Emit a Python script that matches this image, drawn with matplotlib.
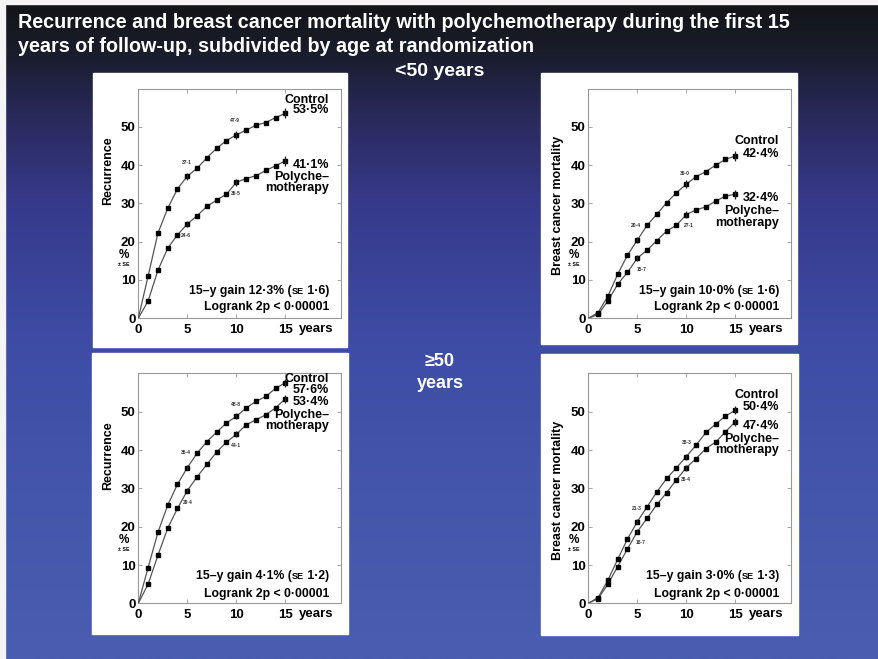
import numpy as np
import matplotlib
matplotlib.use("Agg")
import matplotlib.pyplot as plt
from matplotlib import font_manager
from matplotlib.colors import LinearSegmentedColormap
from matplotlib.patches import Rectangle
from matplotlib.offsetbox import TextArea, HPacker, AnnotationBbox

W, H = 879, 659

years = np.arange(16)
se_years = [5, 10, 15]

# recurrence, age < 50
rec_young_ctrl = [0, 11.0, 22.2, 28.7, 33.8, 37.1, 39.2, 41.9, 44.4, 46.4, 47.9, 49.1, 50.4, 51.1, 52.4, 53.5]
rec_young_poly = [0, 4.5, 12.5, 18.3, 21.8, 24.6, 26.8, 29.2, 30.9, 32.4, 35.5, 36.5, 37.2, 38.6, 39.8, 41.1]
rec_young_ctrl_se = [0.9, 1.1, 1.3]
rec_young_poly_se = [0.8, 1.0, 1.3]

# breast cancer mortality, age < 50
mort_young_ctrl = [0, 1.5, 5.8, 11.5, 16.5, 20.4, 24.3, 27.2, 30.2, 32.8, 35.0, 37.0, 38.3, 40.0, 41.5, 42.4]
mort_young_poly = [0, 1.0, 4.5, 8.9, 12.0, 15.7, 17.8, 20.3, 22.8, 24.3, 27.1, 28.3, 29.1, 30.6, 31.9, 32.4]
mort_young_ctrl_se = [0.8, 1.1, 1.3]
mort_young_poly_se = [0.7, 1.0, 1.2]

# recurrence, age >= 50
rec_old_ctrl = [0, 9.3, 18.5, 25.6, 31.1, 35.4, 39.2, 42.2, 44.7, 47.1, 48.8, 51.0, 52.7, 54.0, 56.1, 57.6]
rec_old_poly = [0, 5.0, 12.5, 19.6, 24.8, 29.4, 33.0, 36.3, 39.5, 42.1, 44.1, 46.6, 47.9, 49.2, 51.0, 53.4]
rec_old_ctrl_se = [0.6, 0.8, 1.0]
rec_old_poly_se = [0.6, 0.8, 1.0]

# breast cancer mortality, age >= 50
mort_old_ctrl = [0, 1.5, 6.0, 11.5, 16.8, 21.3, 25.2, 29.1, 32.6, 35.4, 38.3, 41.3, 44.6, 46.8, 48.9, 50.4]
mort_old_poly = [0, 1.2, 5.0, 9.6, 14.2, 18.7, 22.2, 25.8, 28.9, 32.3, 35.4, 37.8, 40.4, 42.1, 44.8, 47.4]
mort_old_ctrl_se = [0.6, 0.8, 1.0]
mort_old_poly_se = [0.6, 0.8, 1.0]

gain_15y = [12.3, 10.0, 4.1, 3.0]
gain_se = [1.6, 1.6, 1.2, 1.3]

title_lines = ["Recurrence and breast cancer mortality with polychemotherapy during the first 15",
               "years of follow-up, subdivided by age at randomization"]


def has_font(name):
    try:
        font_manager.findfont(font_manager.FontProperties(family=name), fallback_to_default=False)
        return True
    except ValueError:
        return False


SANS = "Liberation Sans" if has_font("Liberation Sans") else "DejaVu Sans"
NARROW = "Liberation Sans Narrow" if has_font("Liberation Sans Narrow") else SANS
TITLE_SIZE = 16.5 if NARROW != SANS else 14.2


def dot(v):
    return f"{v:.1f}".replace(".", "\u00b7")


# px per year / px per percentage point, and axis extents in data units
PX_X, PX_Y = 9.8, 3.83
XMAX, YMAX = 20.7, 60.0

panels = [
    dict(box=(93, 73, 347, 347), origin=(138.3, 318.3), ylabel="Recurrence", ylab_y=38.5,
         ctrl=rec_young_ctrl, poly=rec_young_poly, cse=rec_young_ctrl_se, pse=rec_young_poly_se,
         end_y=[57.1, 54.3, 40.0, 37.0, 33.9], gain_y=[7.0, 2.9],
         vlab=[(5.0, 40.8), (9.9, 51.6), (4.9, 21.7), (10.0, 32.5)]),
    dict(box=(541, 73, 797, 344), origin=(588.3, 318.3), ylabel="Breast cancer mortality", ylab_y=29.5,
         ctrl=mort_young_ctrl, poly=mort_young_poly, cse=mort_young_ctrl_se, pse=mort_young_poly_se,
         end_y=[46.2, 43.0, 31.3, 27.9, 24.8], gain_y=[7.2, 2.9],
         vlab=[(4.9, 24.2), (9.9, 37.9), (5.4, 12.8), (10.3, 24.2)]),
    dict(box=(92, 353, 348, 634), origin=(138.3, 603.3), ylabel="Recurrence", ylab_y=38.5,
         ctrl=rec_old_ctrl, poly=rec_old_poly, cse=rec_old_ctrl_se, pse=rec_old_poly_se,
         end_y=[58.5, 55.7, 52.6, 49.2, 46.3], gain_y=[7.0, 2.5],
         vlab=[(4.9, 39.3), (10.0, 52.0), (5.0, 26.4), (10.0, 41.2)]),
    dict(box=(541, 354, 798, 635), origin=(588.3, 603.3), ylabel="Breast cancer mortality", ylab_y=29.5,
         ctrl=mort_old_ctrl, poly=mort_old_poly, cse=mort_old_ctrl_se, pse=mort_old_poly_se,
         end_y=[54.5, 51.3, 46.3, 43.0, 40.0], gain_y=[7.0, 2.5],
         vlab=[(4.9, 24.8), (10.1, 41.9), (5.3, 16.0), (10.0, 32.2)]),
]

fig = plt.figure(figsize=(W / 100, H / 100), dpi=100)

# slide background: dark navy at the top fading into blue
bg = fig.add_axes([0, 0, 1, 1])
cmap = LinearSegmentedColormap.from_list("slide", [
    (0.0, "#131417"), (0.08, "#1a1d2c"), (0.17, "#29295a"), (0.3, "#36398a"),
    (0.5, "#3d4ba4"), (0.75, "#4456ab"), (1.0, "#4a5db0")])
grad = np.linspace(0, 1, 400).reshape(-1, 1)
bg.imshow(grad, cmap=cmap, aspect="auto", extent=[0, W, H, 0], zorder=0)
bg.set_xlim(0, W)
bg.set_ylim(H, 0)
bg.axis("off")
bg.add_patch(Rectangle((0, 0), 5, H, color="#f4f4f6", zorder=1))
bg.add_patch(Rectangle((0, 0), W, 4, color="#f4f4f6", zorder=1))

for i, line in enumerate(title_lines):
    bg.text(18, 22 + 24 * i, line, color="white", fontsize=TITLE_SIZE, fontweight="bold",
            family=NARROW, va="center", ha="left", zorder=3)
bg.text(440, 71, "<50 years", color="white", fontsize=14, fontweight="bold",
        family=NARROW, va="center", ha="center", zorder=3)
bg.text(440, 361, "\u226550", color="white", fontsize=13, fontweight="bold",
        family=SANS, va="center", ha="center", zorder=3)
bg.text(440, 383, "years", color="white", fontsize=13, fontweight="bold",
        family=SANS, va="center", ha="center", zorder=3)

for k, p in enumerate(panels):
    x0, y0, x1, y1 = p["box"]
    bg.add_patch(Rectangle((x0, y0), x1 - x0, y1 - y0, color="white", zorder=2))

    ox, oy = p["origin"]
    ax = fig.add_axes([ox / W, 1 - oy / H, XMAX * PX_X / W, YMAX * PX_Y / H])
    ax.set_facecolor("none")
    ax.set_xlim(0, XMAX)
    ax.set_ylim(0, YMAX)
    ax.set_xticks([0, 5, 10, 15])
    ax.set_yticks([0, 10, 20, 30, 40, 50])
    ax.tick_params(direction="in", length=3, width=0.6, color="#999999",
                   top=True, right=True, labelsize=9.5, pad=2)
    ax.tick_params(axis="x", pad=4)
    for lab in ax.get_xticklabels() + ax.get_yticklabels():
        lab.set_fontweight("bold")
        lab.set_family(SANS)
    for s in ax.spines.values():
        s.set_color("#999999")
        s.set_linewidth(0.8)

    tk = dict(family=SANS, fontweight="bold", color="black")
    ax.text(18.2, -2.9, "years", fontsize=9.5, ha="center", va="center", clip_on=False, **tk)
    ax.text(-3.05, p["ylab_y"], p["ylabel"], fontsize=9, rotation=90,
            ha="center", va="center", clip_on=False, **tk)
    ax.text(-1.45, 16.6, "%", fontsize=8.5, ha="center", va="center", clip_on=False, **tk)
    ax.text(-1.45, 14.0, "\u00b1 SE", fontsize=3.8, ha="center", va="center", clip_on=False, **tk)

    for vals, se in ((p["ctrl"], p["cse"]), (p["poly"], p["pse"])):
        ax.plot(years, vals, color="#555555", lw=0.9, zorder=3)
        ax.plot(years[1:], vals[1:], ls="none", marker="s", ms=2.7, color="black", zorder=4)
        at = [vals[y] for y in se_years]
        ax.errorbar(se_years, at, yerr=se, fmt="none", ecolor="#222222", elinewidth=0.9,
                    capsize=0, zorder=4)

    # 5- and 10-year values written beside the curves
    vl = p["vlab"]
    for (lx, ly), v in zip(vl, [p["ctrl"][5], p["ctrl"][10], p["poly"][5], p["poly"][10]]):
        ax.text(lx, ly, dot(v), fontsize=3.6, ha="center", va="center",
                color="#333333", family=SANS, fontweight="bold")

    ey = p["end_y"]
    right = 19.45
    ax.text(right, ey[0], "Control", fontsize=9, ha="right", va="center", **tk)
    ax.text(right, ey[1], dot(p["ctrl"][15]) + "%", fontsize=9, ha="right", va="center", **tk)
    ax.text(right, ey[2], dot(p["poly"][15]) + "%", fontsize=9, ha="right", va="center", **tk)
    ax.text(right, ey[3], "Polyche\u2013", fontsize=9, ha="right", va="center", **tk)
    ax.text(right, ey[4], "motherapy", fontsize=9, ha="right", va="center", **tk)

    big = dict(fontsize=8.8, fontweight="bold", family=SANS, color="black")
    small = dict(fontsize=6.6, fontweight="bold", family=SANS, color="black")
    row = HPacker(children=[TextArea(f"15\u2013y gain {dot(gain_15y[k])}% (", textprops=big),
                            TextArea("SE", textprops=small),
                            TextArea(f" {dot(gain_se[k])})", textprops=big)],
                  align="baseline", pad=0, sep=0)
    ax.add_artist(AnnotationBbox(row, (right, p["gain_y"][0]), xycoords="data",
                                 box_alignment=(1, 0.5), frameon=False, pad=0))
    ax.text(right, p["gain_y"][1], "Logrank 2p < 0\u00b700001", fontsize=8.8,
            ha="right", va="center", **tk)

fig.savefig("out.png", dpi=100)
